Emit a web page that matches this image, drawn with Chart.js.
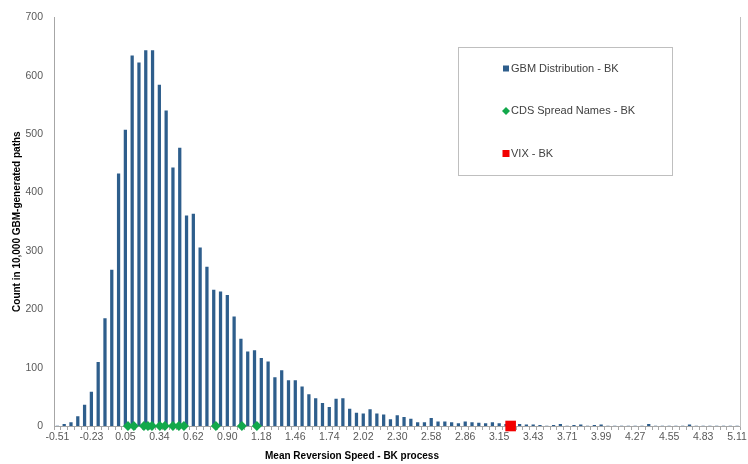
<!DOCTYPE html>
<html>
<head>
<meta charset="utf-8">
<script src="https://cdn.jsdelivr.net/npm/chart.js@4.4.1/dist/chart.umd.min.js"></script>
<style>
  html, body { margin: 0; padding: 0; background: #fff; }
  #wrap { width: 748px; height: 464px; }
</style>
</head>
<body>
<div id="wrap"><canvas id="chart" width="748" height="464"></canvas></div>
<script>
// Histogram counts, one per bin (101 bins)
const counts = [
  0, 3, 6, 16, 36, 58, 109, 184, 267, 432,
  507, 634, 622, 643, 643, 584, 540, 442, 476, 360,
  363, 305, 272, 233, 230, 224, 187, 149, 127, 129,
  116, 110, 83, 95, 78, 78, 67, 54, 47, 39,
  32, 46, 47, 29, 22, 21, 28, 21, 19, 11,
  18, 15, 12, 6, 6, 13, 7, 7, 6, 4,
  7, 6, 5, 4, 6, 4, 3, 2, 3, 2,
  2, 1, 0, 1, 3, 0, 1, 2, 0, 1,
  2, 0, 0, 0, 0, 0, 0, 3, 0, 0,
  0, 0, 0, 2, 0, 0, 0, 0, 0, 0,
  0
];

// x-axis labels, shown on every 5th bin
const tickLabels = ['-0.51', '-0.23', '0.05', '0.34', '0.62', '0.90', '1.18', '1.46', '1.74', '2.02',
  '2.30', '2.58', '2.86', '3.15', '3.43', '3.71', '3.99', '4.27', '4.55', '4.83', '5.11'];
const labelEvery = 5;

// bin geometry (value of first bin and bin width)
const binStart = -0.5075;
const binWidth = 0.0562;

// mean reversion speeds of the CDS spread names and VIX
const cdsSpeeds = [0.076, 0.125, 0.208, 0.241, 0.274, 0.340, 0.381, 0.448, 0.497, 0.539, 0.803, 1.018, 1.142];
const vixSpeed = [3.24];

const yTicks = { min: 0, max: 700, step: 100 };

const BLUE = '#2E5E8C';
const GREEN = '#12A84B';
const RED = '#F20000';
const FONT = '"Liberation Sans", Arial, sans-serif';

const categories = counts.map((c, i) => i);

// speed -> fractional bin position on the category axis
const toBin = v => (v - binStart) / binWidth;

// legend drawn as a framed box inside the plot
const legendBox = {
  id: 'legendBox',
  afterDraw(chart) {
    const ctx = chart.ctx;
    const bx = 458, by = 47, bw = 214, bh = 128;
    ctx.save();
    ctx.fillStyle = '#fff';
    ctx.fillRect(bx, by, bw, bh);
    ctx.strokeStyle = '#BFBFBF';
    ctx.lineWidth = 1;
    ctx.strokeRect(bx + 0.5, by + 0.5, bw, bh);
    ctx.font = '11px ' + FONT;
    ctx.textBaseline = 'middle';
    chart.data.datasets.forEach((ds, i) => {
      const cx = 506, cy = 68.5 + i * 42.5;
      ctx.fillStyle = ds.legendColor;
      if (ds.legendShape === 'diamond') {
        ctx.beginPath();
        ctx.moveTo(cx - 4, cy); ctx.lineTo(cx, cy - 4); ctx.lineTo(cx + 4, cy); ctx.lineTo(cx, cy + 4);
        ctx.closePath(); ctx.fill();
      } else {
        const s = ds.legendShape === 'big' ? 7 : 6;
        ctx.fillRect(cx - s / 2, cy - s / 2, s, s);
      }
      ctx.fillStyle = '#404040';
      ctx.fillText(ds.label, cx + 5, cy);
    });
    ctx.restore();
  }
};

// x-axis title sits left of centre in the original
const xTitle = {
  id: 'xTitle',
  afterDraw(chart) {
    const ctx = chart.ctx;
    ctx.save();
    ctx.font = 'bold 10px ' + FONT;
    ctx.fillStyle = '#000';
    ctx.textAlign = 'center';
    ctx.textBaseline = 'middle';
    ctx.fillText('Mean Reversion Speed - BK process', 352, 456);
    ctx.restore();
  }
};

new Chart(document.getElementById('chart'), {
  type: 'bar',
  data: {
    labels: categories,
    datasets: [
      {
        label: 'GBM Distribution - BK',
        data: counts,
        backgroundColor: BLUE,
        barThickness: 2.6,
        legendColor: BLUE,
        legendShape: 'square',
        order: 3
      },
      {
        type: 'scatter',
        label: 'CDS Spread Names - BK',
        parsing: false,
        data: cdsSpeeds.map(v => ({ x: toBin(v), y: 0 })),
        pointStyle: 'rectRot',
        radius: 5,
        backgroundColor: GREEN,
        borderWidth: 0,
        clip: false,
        legendColor: GREEN,
        legendShape: 'diamond',
        order: 1
      },
      {
        type: 'scatter',
        label: 'VIX - BK',
        parsing: false,
        data: vixSpeed.map(v => ({ x: toBin(v), y: 0 })),
        pointStyle: 'rect',
        radius: 7.5,
        backgroundColor: RED,
        borderWidth: 0,
        clip: false,
        legendColor: RED,
        legendShape: 'big',
        order: 0
      }
    ]
  },
  options: {
    responsive: false,
    animation: false,
    devicePixelRatio: 1,
    layout: { padding: { top: 13, right: 7, left: 11, bottom: 0 } },
    plugins: {
      legend: { display: false },
      tooltip: { enabled: false }
    },
    scales: {
      x: {
        type: 'category',
        offset: true,
        grid: { drawOnChartArea: false, drawTicks: true, tickLength: 4, color: '#A6A6A6', offset: true },
        border: { display: true, color: '#A6A6A6' },
        ticks: {
          autoSkip: false,
          maxRotation: 0,
          padding: 1,
          color: '#595959',
          font: { family: FONT, size: 10.5 },
          callback: (v, i) => (i % labelEvery === 0 ? tickLabels[i / labelEvery] : '')
        },
        afterFit: s => { s.height = 38; }
      },
      y: {
        min: yTicks.min,
        max: yTicks.max,
        grid: { display: false, drawTicks: false },
        border: { display: true, color: '#A6A6A6' },
        ticks: {
          stepSize: yTicks.step,
          padding: 11,
          color: '#595959',
          font: { family: FONT, size: 10.5 }
        },
        title: {
          display: true,
          text: 'Count in 10,000 GBM-generated paths',
          color: '#000',
          font: { family: FONT, size: 10, weight: 'bold' },
          padding: { top: 0, bottom: 0 }
        },
        afterFit: s => { s.width = 43; }
      },
      y2: {
        position: 'right',
        min: yTicks.min,
        max: yTicks.max,
        grid: { display: false, drawTicks: false },
        border: { display: true, color: '#BFBFBF' },
        ticks: { display: false },
        afterFit: s => { s.width = 0; }
      }
    }
  },
  plugins: [legendBox, xTitle]
});
</script>
</body>
</html>
